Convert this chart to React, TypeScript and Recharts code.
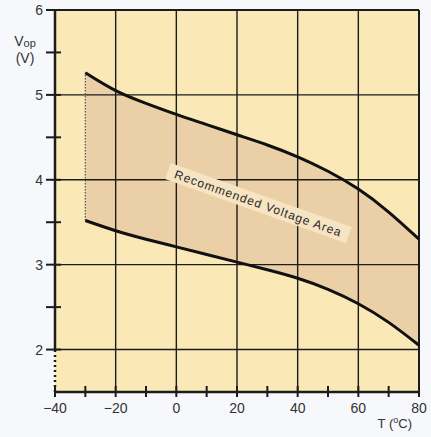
import React from "react"
import { ComposedChart, Area, Line, XAxis, YAxis, CartesianGrid, ReferenceLine, ReferenceDot } from "recharts"

// temperature (°C) and the two boundary curves of the recommended band (V)
const temps = [-30, -20, -10, 0, 10, 20, 30, 40, 50, 60, 70, 80]
const upperV = [5.26, 5.05, 4.9, 4.77, 4.65, 4.53, 4.41, 4.27, 4.1, 3.89, 3.62, 3.3]
const lowerV = [3.52, 3.4, 3.3, 3.21, 3.12, 3.03, 2.94, 2.84, 2.71, 2.54, 2.32, 2.05]

const xTicks = [-40, -30, -20, -10, 0, 10, 20, 30, 40, 50, 60, 70, 80]
const yTicks = [2, 2.5, 3, 3.5, 4, 4.5, 5, 5.5, 6]
const xGrid = [-20, 0, 20, 40, 60]
const yGrid = [2, 3, 4, 5]

const data = temps.map((t, i) => ({
  t,
  upper: upperV[i],
  lower: lowerV[i],
  band: [lowerV[i], upperV[i]],
}))

const ink = "#1c1c1c"
const font = "'Liberation Sans', Arial, sans-serif"

function XTick(props: any) {
  const { x, y, payload } = props
  const v = payload.value
  return (
    <g>
      <line x1={x} x2={x} y1={y - 6} y2={y + 5} stroke={ink} strokeWidth={2} />
      {v % 20 === 0 && (
        <text x={x} y={y + 21} textAnchor="middle" fontSize={14} fill="#333" fontFamily={font}>
          {v < 0 ? `\u2212${-v}` : v}
        </text>
      )}
    </g>
  )
}

function YTick(props: any) {
  const { x, y, payload } = props
  const v = payload.value
  return (
    <g>
      <line x1={x - 9} x2={x + 6} y1={y} y2={y} stroke={ink} strokeWidth={2} />
      {Number.isInteger(v) && (
        <text x={x - 12} y={y + 5} textAnchor="end" fontSize={14} fill="#333" fontFamily={font}>
          {v}
        </text>
      )}
    </g>
  )
}

function BandLabel(props: any) {
  const { viewBox } = props
  const cx = viewBox.x + (viewBox.width || 0) / 2
  const cy = viewBox.y + (viewBox.height || 0) / 2
  return (
    <g transform={`rotate(19.5 ${cx} ${cy})`}>
      <rect x={cx - 96} y={cy - 9} width={192} height={17} fill="#f6e4c2" />
      <text x={cx} y={cy + 4} textAnchor="middle" fontSize={12} letterSpacing={1} fill="#2a2a2a" fontFamily={font}>
        Recommended Voltage Area
      </text>
    </g>
  )
}

function YLabel(props: any) {
  return (
    <g fontFamily={font} fill="#333" fontSize={14}>
      <text x={25} y={46} textAnchor="middle">
        V<tspan fontSize={11} dy={1}>op</tspan>
      </text>
      <text x={25} y={63} textAnchor="middle">(V)</text>
    </g>
  )
}

function XLabel(props: any) {
  return (
    <text x={412} y={428} textAnchor="end" fontFamily={font} fill="#333" fontSize={13}>
      T (<tspan fontSize={9} dy={-5}>o</tspan><tspan dy={5}>C)</tspan>
    </text>
  )
}

export default function App() {
  return (
    <div style={{ position: "absolute", left: 0, top: 0, width: 431, height: 437, background: "#f6f8fb" }}>
      <ComposedChart width={431} height={437} data={data} margin={{ top: 10, right: 12, left: 0, bottom: 0 }}>
        <CartesianGrid horizontal={false} vertical={false} fill="#fbe8b7" />
        <XAxis
          dataKey="t"
          type="number"
          domain={[-40, 80]}
          ticks={xTicks}
          interval={0}
          height={45}
          tickSize={0}
          tickMargin={0}
          tick={<XTick />}
          axisLine={{ stroke: ink, strokeWidth: 2.5 }}
          label={<XLabel />}
        />
        <YAxis
          type="number"
          domain={[1.5, 6]}
          ticks={yTicks}
          interval={0}
          width={55}
          tickSize={0}
          tickMargin={0}
          tick={<YTick />}
          axisLine={false}
          label={<YLabel />}
        />
        <Area
          dataKey="band"
          type="natural"
          stroke="none"
          fill="#ebcfa6"
          fillOpacity={1}
          isAnimationActive={false}
        />
        {xGrid.map((v) => (
          <ReferenceLine key={`x${v}`} x={v} stroke={ink} strokeWidth={1.4} />
        ))}
        {yGrid.map((v) => (
          <ReferenceLine key={`y${v}`} y={v} stroke={ink} strokeWidth={1.4} />
        ))}
        <ReferenceLine y={6} stroke={ink} strokeWidth={2} />
        <ReferenceLine x={80} stroke={ink} strokeWidth={2} />
        <ReferenceLine segment={[{ x: -40, y: 2 }, { x: -40, y: 6 }]} stroke={ink} strokeWidth={2.5} />
        <ReferenceLine segment={[{ x: -40, y: 1.5 }, { x: -40, y: 2 }]} stroke={ink} strokeWidth={2.5} strokeDasharray="2 3" />
        <ReferenceLine
          segment={[{ x: temps[0], y: lowerV[0] }, { x: temps[0], y: upperV[0] }]}
          stroke="#555"
          strokeWidth={1.2}
          strokeDasharray="1.5 1.5"
        />
        <Line dataKey="upper" type="natural" stroke="#111" strokeWidth={3} dot={false} isAnimationActive={false} />
        <Line dataKey="lower" type="natural" stroke="#111" strokeWidth={3} dot={false} isAnimationActive={false} />
        <ReferenceDot x={27} y={3.72} r={0} stroke="none" fill="none" label={<BandLabel />} />
      </ComposedChart>
    </div>
  )
}
